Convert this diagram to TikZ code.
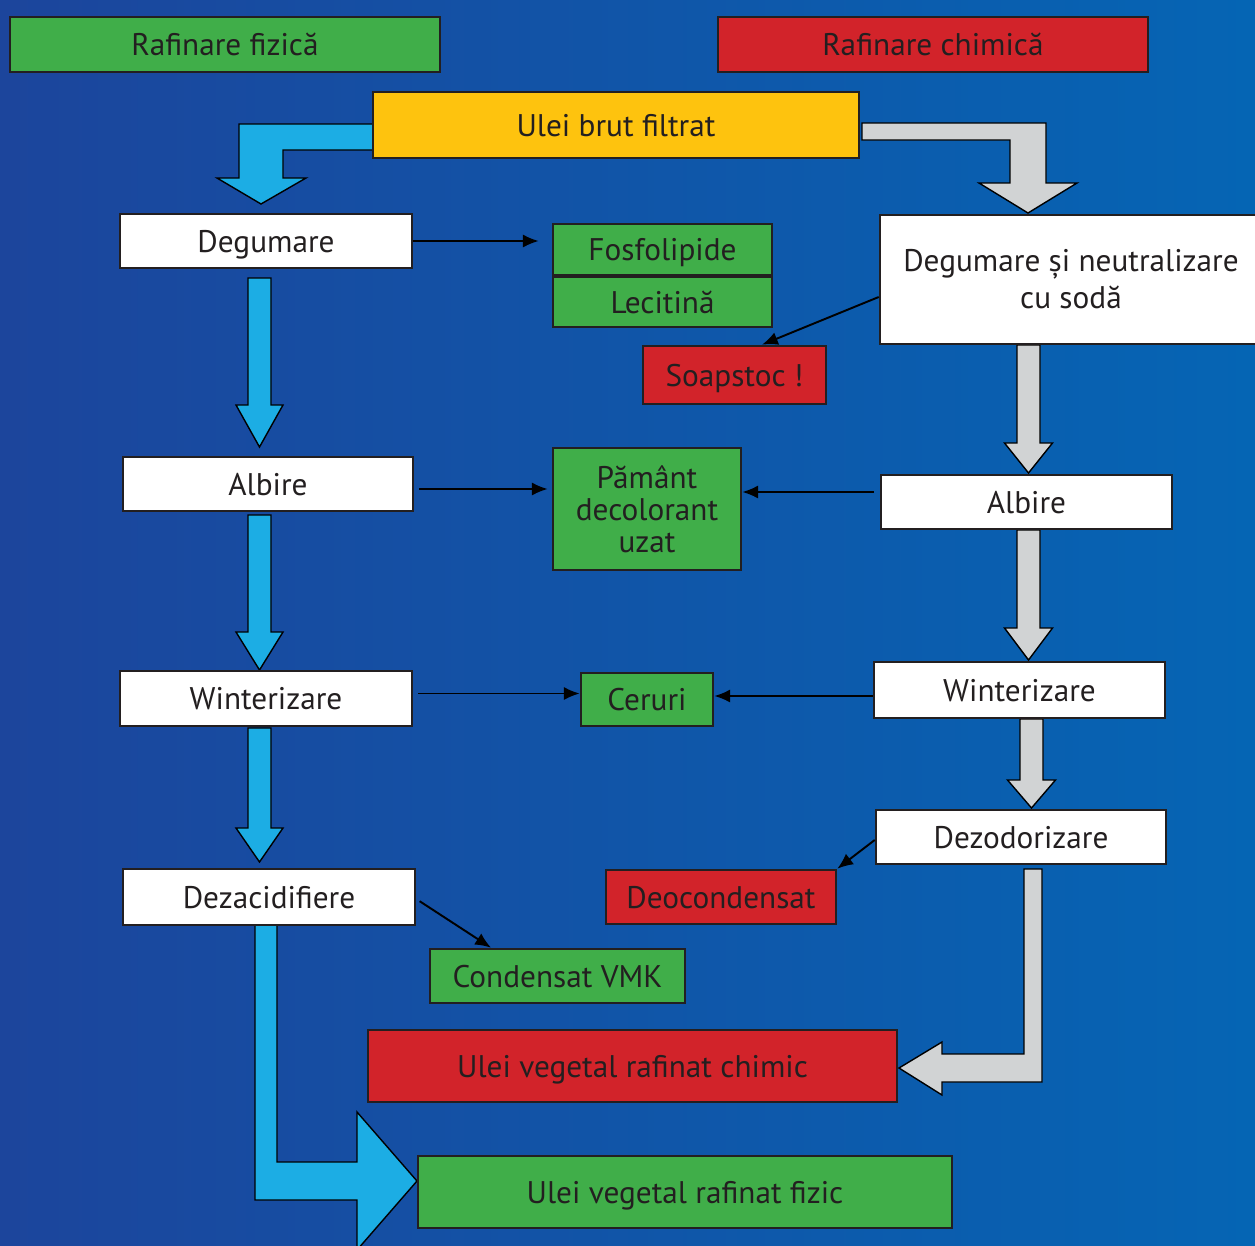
\documentclass[tikz,border=0pt]{standalone}
\usepackage{fontspec}
\setmainfont{PT Sans}
\usetikzlibrary{arrows.meta}
\definecolor{bgleft}{HTML}{1C459C}
\definecolor{bgright}{HTML}{0565B4}
\definecolor{verde}{HTML}{40AE49}
\definecolor{rosu}{HTML}{D2232A}
\definecolor{galben}{HTML}{FEC30E}
\definecolor{cian}{HTML}{1CADE4}
\definecolor{gri}{HTML}{D1D3D4}
\definecolor{contur}{HTML}{231F20}
\begin{document}
\begin{tikzpicture}[x=0.02cm, y=-0.02cm,
  every node/.style={draw=contur, line width=1.5pt, text=contur, inner sep=0pt, align=center, text depth=0pt, font=\fontsize{17.8}{20}\selectfont},
  boxalb/.style={fill=white},
  boxverde/.style={fill=verde},
  boxrosu/.style={fill=rosu},
  sageata/.style={draw=black, line width=1.1pt, -{Latex[length=9pt,width=7.5pt]}},
  bloccian/.style={fill=cian, draw=black, line width=0.8pt},
  blocgri/.style={fill=gri, draw=black, line width=0.8pt}]
\useasboundingbox (0,0) rectangle (1255,1245);
\shade[left color=bgleft, right color=bgright] (0,0) rectangle (1255,1245);
% block arrows
\draw[bloccian] (373,124) -- (239,124) -- (239,178) -- (217,178) -- (261,204) -- (306,178) -- (283,178) -- (283,150) -- (373,150) -- cycle;
\draw[blocgri] (862,123) -- (1046,123) -- (1046,183) -- (1077,183) -- (1028,213) -- (979,183) -- (1010,183) -- (1010,140) -- (862,140) -- cycle;
\foreach \t/\b/\v in {278/405/447, 515/632/670, 728/828/862}
  \draw[bloccian] (248,\t) -- (271,\t) -- (271,\b) -- (283,\b) -- (259.5,\v) -- (236,\b) -- (248,\b) -- cycle;
\foreach \c/\t/\b/\v in {1028.5/345/443/473, 1028.5/530/628/660, 1031.5/719/780/808}
  \draw[blocgri] (\c-11.5,\t) -- (\c+11.5,\t) -- (\c+11.5,\b) -- (\c+24,\b) -- (\c,\v) -- (\c-24,\b) -- (\c-11.5,\b) -- cycle;
\draw[blocgri] (1024,869) -- (1042,869) -- (1042,1082) -- (942,1082) -- (942,1095) -- (899,1068) -- (942,1042) -- (942,1054) -- (1024,1054) -- cycle;
\draw[bloccian] (255,925) -- (277,925) -- (277,1162) -- (357,1162) -- (357,1112) -- (417,1181) -- (357,1250) -- (357,1200) -- (255,1200) -- cycle;
% boxes
\node[boxverde, minimum width=8.6cm, minimum height=1.1cm] (fizica) at (225,44.5) {Rafinare fizică};
\node[boxrosu, minimum width=8.6cm, minimum height=1.1cm] (chimica) at (933,44.5) {Rafinare chimică};
\node[fill=galben, minimum width=9.72cm, minimum height=1.32cm] (brut) at (616,125) {Ulei brut filtrat};
\node[boxalb, minimum width=5.84cm, minimum height=1.08cm] (degL) at (266,241) {Degumare};
\node[boxverde, minimum width=4.38cm, minimum height=1.02cm] (fosfo) at (662.5,249.5) {Fosfolipide};
\node[boxverde, minimum width=4.38cm, minimum height=1cm] (lecit) at (662.5,302) {Lecitină};
\node[boxalb, minimum width=7.64cm, minimum height=2.58cm, text depth={}, font=\fontsize{17.8}{21}\selectfont] (degR) at (1071,279.5) {Degumare și neutralizare\\cu sodă};
\node[boxrosu, minimum width=3.66cm, minimum height=1.16cm] (soap) at (734.5,375) {Soapstoc !};
\node[boxalb, minimum width=5.8cm, minimum height=1.08cm] (albL) at (268,484) {Albire};
\node[boxverde, minimum width=3.76cm, minimum height=2.44cm, text depth={}, font=\fontsize{17.8}{18.2}\selectfont] (pamant) at (647,509) {Pământ\\decolorant\\uzat};
\node[boxalb, minimum width=5.82cm, minimum height=1.08cm] (albR) at (1026.5,502) {Albire};
\node[boxalb, minimum width=5.84cm, minimum height=1.1cm] (wintL) at (266,698.5) {Winterizare};
\node[boxverde, minimum width=2.64cm, minimum height=1.06cm] (ceruri) at (647,699.5) {Ceruri};
\node[boxalb, minimum width=5.82cm, minimum height=1.12cm] (wintR) at (1019.5,690) {Winterizare};
\node[boxalb, minimum width=5.8cm, minimum height=1.08cm] (dezod) at (1021,837) {Dezodorizare};
\node[boxrosu, minimum width=4.6cm, minimum height=1.08cm] (deocond) at (721,897) {Deocondensat};
\node[boxalb, minimum width=5.84cm, minimum height=1.12cm] (dezacid) at (269,897) {Dezacidifiere};
\node[boxverde, minimum width=5.1cm, minimum height=1.08cm] (vmk) at (557.5,976) {Condensat VMK};
\node[boxrosu, minimum width=10.58cm, minimum height=1.44cm] (chimic) at (632.5,1066) {Ulei vegetal rafinat chimic};
\node[boxverde, minimum width=10.68cm, minimum height=1.44cm] (fizic) at (685,1192) {Ulei vegetal rafinat fizic};
% thin arrows
\draw[sageata, shorten >=13*0.02cm] (degL.east) -- (degL.east -| fosfo.west);
\draw[sageata] ([yshift=-0.35cm]degR.west) -- ([xshift=0.55cm]soap.north);
\draw[sageata, shorten <=5*0.02cm, shorten >=4*0.02cm] ([yshift=-0.1cm]albL.east) -- ([yshift=-0.1cm]albL.east -| pamant.west);
\draw[sageata, shorten <=6*0.02cm] ([yshift=0.2cm]albR.west) -- ([yshift=0.2cm]albR.west -| pamant.east);
\draw[sageata, shorten <=5*0.02cm] ([yshift=0.1cm]wintL.east) -- ([yshift=0.1cm]wintL.east -| ceruri.west);
\draw[sageata] ([yshift=-0.12cm]wintR.west) -- ([yshift=-0.12cm]wintR.west -| ceruri.east);
\draw[sageata] ([yshift=-0.06cm]dezod.west) -- (deocond.north east);
\draw[sageata, shorten <=4*0.02cm] ([yshift=-0.04cm]dezacid.east) -- ([xshift=-1.33cm]vmk.north);
\end{tikzpicture}
\end{document}
